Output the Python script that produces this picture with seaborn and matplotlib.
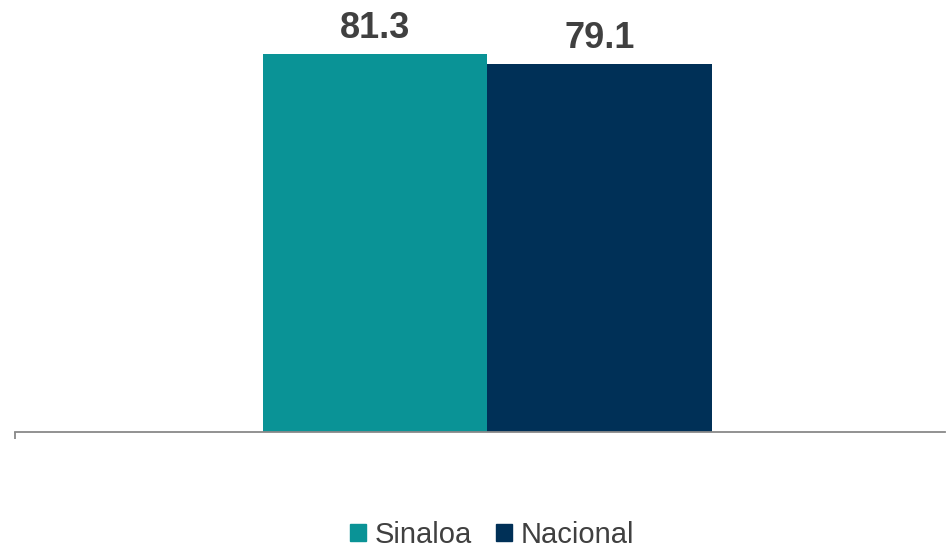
import matplotlib
matplotlib.use("Agg")
import matplotlib.pyplot as plt
import seaborn as sns
import pandas as pd

series = ["Sinaloa", "Nacional"]
values = [81.3, 79.1]
colors = ["#0a9396", "#003057"]

df = pd.DataFrame({"grupo": [""] * 2, "serie": series, "valor": values})

sns.set_style("white")
plt.rcParams['font.family'] = ['Liberation Sans', 'DejaVu Sans']

fig = plt.figure(figsize=(9.47, 5.49), dpi=100)
# axes: x from 15px to 945px, bottom at 432px, top at the figure edge
ax = fig.add_axes([15 / 947, (549 - 432) / 549, 930 / 947, 432 / 549])

sns.barplot(data=df, x="grupo", y="valor", hue="serie", palette=colors,
            width=449 / 930, dodge=True, ax=ax, legend=False, saturation=1,
            linewidth=0, edgecolor="none")

ax.set_xlim(-0.508, 0.492)
ax.set_ylim(0, 92.9)

for cont in ax.containers:
    ax.bar_label(cont, fmt="%.1f", padding=6, fontsize=26, fontweight="bold", color="#404040")

for s in ["top", "right", "left"]:
    ax.spines[s].set_visible(False)
ax.spines["bottom"].set_color("#898989")
ax.spines["bottom"].set_linewidth(1.3)
ax.set_yticks([])
ax.set_xticks([-0.5075])
ax.set_xticklabels([""])
ax.tick_params(axis="x", bottom=True, direction="out", length=5, width=1.3, color="#898989")
ax.set_xlabel("")
ax.set_ylabel("")

handles = [plt.Rectangle((0, 0), 1, 1, color=c) for c in colors]
leg = fig.legend(handles, series, loc="center", bbox_to_anchor=(492 / 947, 1 - 535 / 549),
                 ncol=2, frameon=False, fontsize=21, handlelength=0.55, handleheight=0.55,
                 handletextpad=0.3, columnspacing=0.8)
for t in leg.get_texts():
    t.set_color("#404040")

fig.savefig("out.png", dpi=100)
